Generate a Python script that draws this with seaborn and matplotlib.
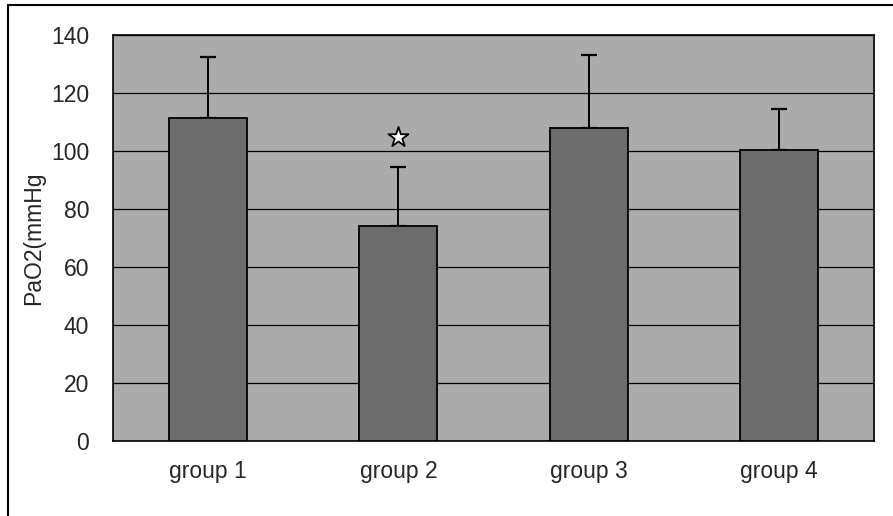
import matplotlib
matplotlib.use("Agg")
import matplotlib.pyplot as plt
import seaborn as sns
from matplotlib.lines import Line2D

# Data
groups = ["group 1", "group 2", "group 3", "group 4"]
pao2_mean = [111.5, 74, 108, 100.5]
pao2_sd = [21, 20.5, 25, 14]
star_group = "group 2"
star_value = 105

sns.set_style("white")
plt.rcParams["font.family"] = ["Liberation Sans", "DejaVu Sans"]

fig = plt.figure(figsize=(8.93, 5.16), dpi=100)
ax = fig.add_axes([0.1265, 0.1453, 0.8522, 0.7867])

sns.barplot(x=groups, y=pao2_mean, color="#6c6c6c", width=0.41,
            edgecolor="black", linewidth=1.3, saturation=1, ax=ax, zorder=3)

xpos = list(range(len(groups)))
ax.errorbar(xpos, pao2_mean, yerr=[[0] * len(pao2_sd), pao2_sd], fmt="none",
            ecolor="black", elinewidth=1.4, capsize=6, capthick=1.6, zorder=2)

ax.scatter([groups.index(star_group)], [star_value], marker="*", s=230,
           facecolor="white", edgecolor="black", linewidth=1.3, zorder=4)

ax.set_facecolor("#ababab")
ax.set_ylim(0, 140)
ax.set_xlim(-0.5, 3.5)
ax.set_yticks(range(0, 141, 20))
ax.yaxis.grid(True, color="black", linewidth=0.9)
ax.set_axisbelow(True)
for s in ax.spines.values():
    s.set_visible(True)
    s.set_color("black")
    s.set_linewidth(1.2)

ax.tick_params(axis="both", length=0, labelsize=16.5)
ax.tick_params(axis="y", pad=17)
ax.tick_params(axis="x", pad=14)
ax.set_ylabel("PaO2(mmHg", fontsize=16.5, labelpad=4)
ax.set_xlabel("")

# outer frame (left and top edges)
fig.add_artist(Line2D([0.009, 0.009], [0.0, 0.99], transform=fig.transFigure,
                      color="black", linewidth=1.5))
fig.add_artist(Line2D([0.009, 1.0], [0.99, 0.99], transform=fig.transFigure,
                      color="black", linewidth=1.5))

plt.savefig("out.png", dpi=100)
